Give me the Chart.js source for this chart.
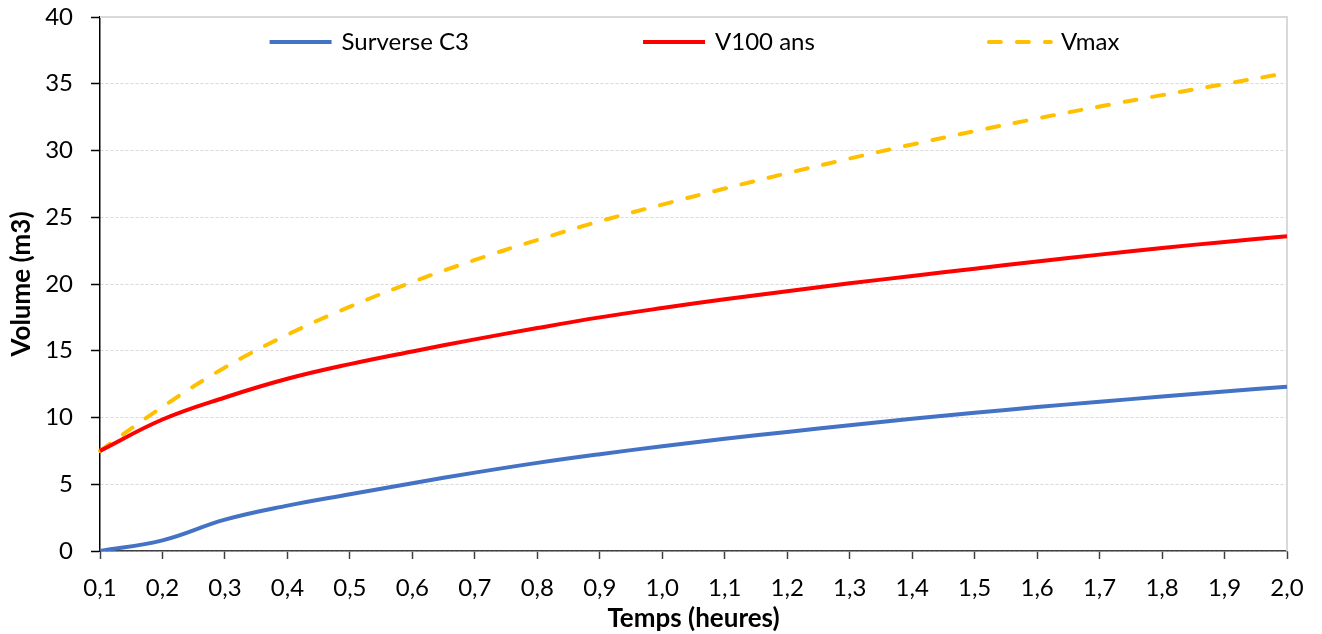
<!DOCTYPE html>
<html>
<head>
<meta charset="utf-8">
<script src="https://cdn.jsdelivr.net/npm/chart.js@4/dist/chart.umd.min.js"></script>
<style>
html, body { margin: 0; padding: 0; background: #ffffff; }
#wrap { width: 1322px; height: 634px; }
</style>
</head>
<body>
<div id="wrap"><canvas id="c" width="1322" height="634"></canvas></div>
<script>
// ---- Data ----
const categories = ['0,1','0,2','0,3','0,4','0,5','0,6','0,7','0,8','0,9','1,0',
                    '1,1','1,2','1,3','1,4','1,5','1,6','1,7','1,8','1,9','2,0'];
const surverseC3 = [0, 0.8, 2.35, 3.4, 4.25, 5.08, 5.87, 6.6, 7.25, 7.85,
                    8.4, 8.92, 9.42, 9.9, 10.35, 10.78, 11.18, 11.57, 11.95, 12.3];
const v100ans    = [7.5, 9.85, 11.5, 12.9, 14.0, 14.95, 15.85, 16.7, 17.5, 18.2,
                    18.85, 19.45, 20.05, 20.6, 21.15, 21.68, 22.2, 22.7, 23.15, 23.58];
const vmax       = [7.5, 10.8, 13.75, 16.2, 18.3, 20.15, 21.8, 23.3, 24.7, 25.95,
                    27.15, 28.3, 29.4, 30.45, 31.45, 32.4, 33.3, 34.15, 34.98, 35.8];
const seriesNames = ['Surverse C3', 'V100 ans', 'Vmax'];
const yMin = 0, yMax = 40, yStep = 5;
const xTitle = 'Temps (heures)';
const yTitle = 'Volume (m3)';

const FONT = 'Lato, "Open Sans", sans-serif';

// Legend drawn inside the plot area (as in the reference)
const insideLegend = {
  id: 'insideLegend',
  afterDraw(chart) {
    const ctx = chart.ctx;
    const area = chart.chartArea;
    const lineLen = 66, textGap = 8, itemGap = 172;
    ctx.save();
    ctx.font = '24px ' + FONT;
    ctx.textBaseline = 'middle';
    ctx.textAlign = 'left';
    const items = chart.data.datasets.map(ds => ({
      ds, w: lineLen + textGap + ctx.measureText(ds.label).width
    }));
    const total = items.reduce((s, it) => s + it.w, 0) + itemGap * (items.length - 1);
    let x = (area.left + area.right) / 2 - total / 2;
    const y = area.top + 25;
    items.forEach(it => {
      ctx.beginPath();
      ctx.strokeStyle = it.ds.borderColor;
      ctx.lineWidth = it.ds.borderWidth;
      ctx.setLineDash(it.ds.borderDash || []);
      ctx.lineCap = it.ds.borderCapStyle || 'butt';
      ctx.moveTo(x + 2, y);
      ctx.lineTo(x + lineLen - 2, y);
      ctx.stroke();
      ctx.setLineDash([]);
      ctx.fillStyle = '#000';
      ctx.fillText(it.ds.label, x + lineLen + textGap, y);
      x += it.w + itemGap;
    });
    ctx.restore();
  }
};

// Light grey frame on top and right of the plot area
const plotFrame = {
  id: 'plotFrame',
  beforeDatasetsDraw(chart) {
    const ctx = chart.ctx;
    const a = chart.chartArea;
    ctx.save();
    ctx.strokeStyle = '#d9d9d9';
    ctx.lineWidth = 2;
    ctx.beginPath();
    ctx.moveTo(a.left, a.top);
    ctx.lineTo(a.right, a.top);
    ctx.lineTo(a.right, a.bottom);
    ctx.stroke();
    ctx.restore();
  }
};

new Chart(document.getElementById('c'), {
  type: 'line',
  data: {
    labels: categories,
    datasets: [
      { label: seriesNames[0], data: surverseC3, borderColor: '#4472C4', backgroundColor: '#4472C4',
        borderWidth: 4, pointRadius: 0, tension: 0.4, fill: false },
      { label: seriesNames[1], data: v100ans, borderColor: '#FF0000', backgroundColor: '#FF0000',
        borderWidth: 4, pointRadius: 0, tension: 0.4, fill: false },
      { label: seriesNames[2], data: vmax, borderColor: '#FFC000', backgroundColor: '#FFC000',
        borderWidth: 4, pointRadius: 0, tension: 0.4, fill: false,
        borderDash: [12, 16], borderCapStyle: 'round' }
    ]
  },
  options: {
    responsive: false,
    animation: false,
    devicePixelRatio: 1,
    layout: { padding: { top: 17, right: 35, left: 0, bottom: 0 } },
    plugins: {
      legend: { display: false },
      tooltip: { enabled: false }
    },
    scales: {
      x: {
        type: 'category',
        offset: false,
        grid: { drawOnChartArea: false, drawTicks: true, tickLength: 8, tickColor: '#404040', tickWidth: 1.5 },
        border: { display: true, color: '#404040', width: 1.5 },
        ticks: { color: '#000', font: { family: FONT, size: 24 }, padding: 15, maxRotation: 0, autoSkip: false },
        title: { display: true, text: xTitle, color: '#000', font: { family: FONT, size: 26, weight: 'bold' },
                 padding: { top: 0, bottom: 0 } },
        afterFit(scale) { scale.height = 83; scale.paddingLeft = 0; scale.paddingRight = 0; }
      },
      y: {
        type: 'linear',
        min: yMin, max: yMax,
        grid: { color: '#d9d9d9', lineWidth: 1, drawTicks: true, tickLength: 9, tickColor: '#000', tickWidth: 1.5 },
        border: { display: true, color: '#000', width: 1.5, dash: [3, 2] },
        ticks: { stepSize: yStep, color: '#000', font: { family: FONT, size: 24 }, padding: 18 },
        title: { display: true, text: yTitle, color: '#000', font: { family: FONT, size: 26, weight: 'bold' },
                 padding: { top: 6, bottom: 0 } },
        afterFit(scale) { scale.width = 100; scale.paddingTop = 0; scale.paddingBottom = 0; }
      }
    }
  },
  plugins: [plotFrame, insideLegend]
});
</script>
</body>
</html>
